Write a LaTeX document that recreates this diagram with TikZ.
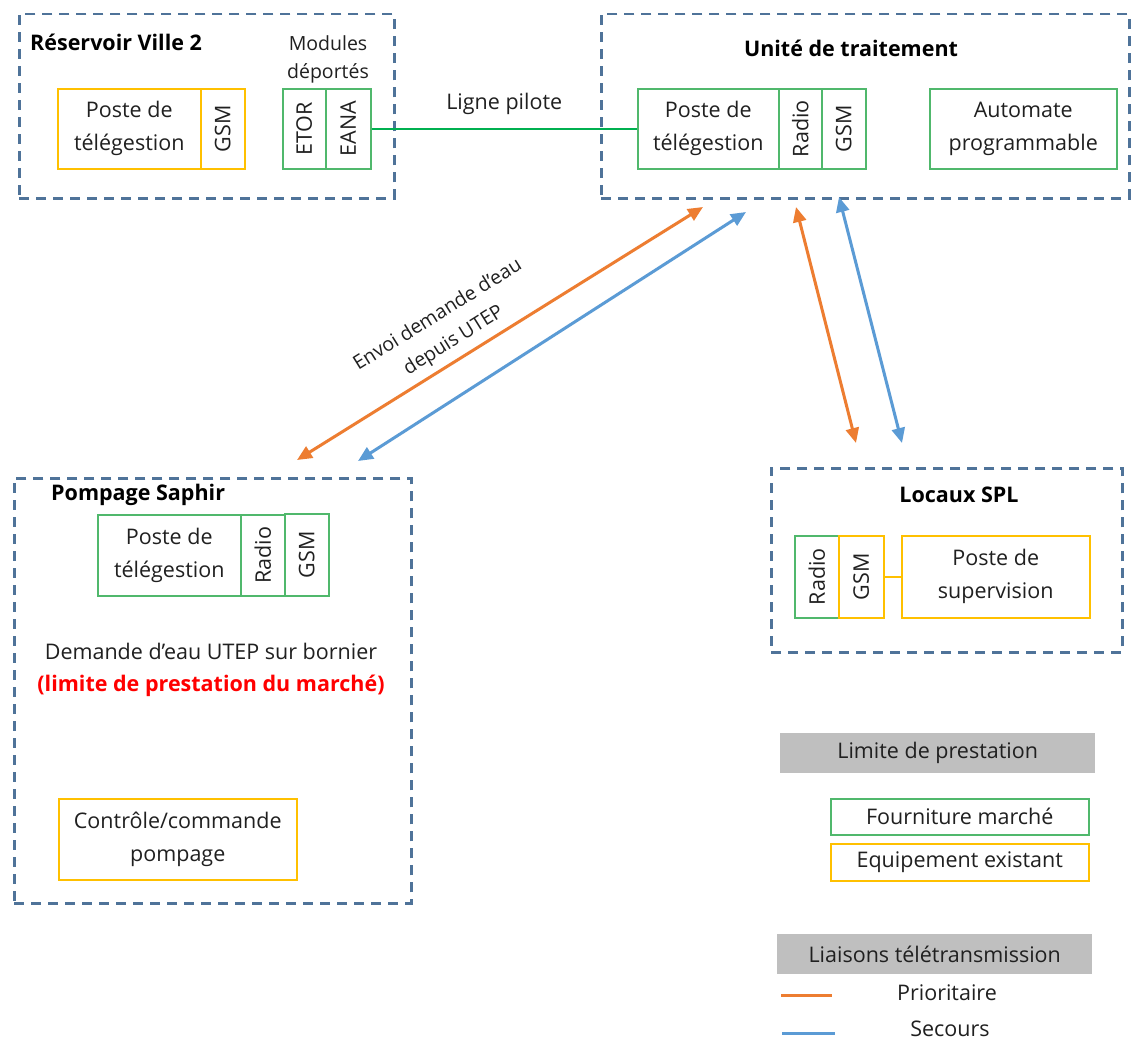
\documentclass[tikz,border=0pt]{standalone}
\usepackage{fontspec}
\setmainfont{Open Sans}
\usetikzlibrary{arrows.meta}
\definecolor{dashblue}{HTML}{4F7399}
\definecolor{gbox}{HTML}{50B86C}
\definecolor{lgreen}{HTML}{00B050}
\definecolor{obox}{HTML}{FFC000}
\definecolor{oarrow}{HTML}{ED7D31}
\definecolor{barrow}{HTML}{5B9BD5}
\definecolor{legray}{HTML}{BFBFBF}
\definecolor{txt}{HTML}{202020}
\definecolor{redtxt}{HTML}{FF0000}
\begin{document}
\begin{tikzpicture}[x=1pt,y=-1pt,
  every node/.style={text=txt, inner sep=0pt, font=\fontsize{21.5}{33}\selectfont, align=center},
  grp/.style={draw=dashblue, line width=2.5pt, dash pattern=on 10pt off 7pt, anchor=north west},
  gb/.style={draw=gbox, line width=1.5pt, anchor=north west},
  ob/.style={draw=obox, line width=1.5pt, anchor=north west},
  ttl/.style={font=\fontsize{21.5}{26}\selectfont\bfseries, text=black},
  small/.style={font=\fontsize{19.5}{28}\selectfont},
  lnk/.style={line width=3pt, {Triangle[length=15pt,width=13pt]}-{Triangle[length=15pt,width=13pt]}},
  legbar/.style={fill=legray, anchor=north west}
]
\useasboundingbox (0,0) rectangle (1134,1041);
\fill[white] (0,0) rectangle (1134,1041);

% ---------- Reservoir Ville 2
\node[grp, minimum width=375, minimum height=184] (res) at (18,13) {};
\node[ttl, anchor=west] (resT) at (30,42) {Réservoir Ville 2};
\node[small] (mod) at (328,59) {Modules\\déportés};
\node[ob, minimum width=143, minimum height=80] (rp) at (57,88) {Poste de\\télégestion};
\node[ob, minimum width=44, minimum height=80] (rg) at (200,88) {\rotatebox{90}{GSM}};
\node[gb, minimum width=43, minimum height=80] (etor) at (282,88) {\rotatebox{90}{ETOR}};
\node[gb, minimum width=45, minimum height=80] (eana) at (325,88) {\rotatebox{90}{EANA}};

% ---------- Unite de traitement
\node[grp, minimum width=528, minimum height=184] (ut) at (600,13) {};
\node[ttl] (utT) at (851,48) {Unité de traitement};
\node[gb, minimum width=141, minimum height=80] (up) at (637,88) {Poste de\\télégestion};
\node[gb, minimum width=43, minimum height=80] (ur) at (778,88) {\rotatebox{90}{Radio}};
\node[gb, minimum width=44, minimum height=80] (ug) at (821,88) {\rotatebox{90}{GSM}};
\node[gb, minimum width=187, minimum height=80] (ua) at (929,88) {Automate\\programmable};

% Ligne pilote
\draw[lgreen, line width=2.5pt] (eana.east) -- node[above=13pt, text=txt] (lp) {Ligne pilote} (up.west);

% ---------- Pompage Saphir
\node[grp, minimum width=397, minimum height=425] (pomp) at (13,477) {};
\node[ttl, anchor=west] (pompT) at (51,495) {Pompage Saphir};
\node[gb, minimum width=143, minimum height=81] (pp) at (97,514) {Poste de\\télégestion};
\node[gb, minimum width=44, minimum height=81] (pr) at (240,514) {\rotatebox{90}{Radio}};
\node[gb, minimum width=44, minimum height=82] (pg) at (284,513) {\rotatebox{90}{GSM}};
\node (dem) at (211,651) {Demande d’eau UTEP sur bornier};
\node[font=\fontsize{21.5}{26}\selectfont\bfseries, text=redtxt] (lim) at (211,686) {(limite de prestation du marché)};
\node[ob, minimum width=238, minimum height=81] (cc) at (58,798) {Contrôle/commande\\pompage};

% ---------- Locaux SPL
\node[grp, minimum width=351, minimum height=184] (spl) at (770,467) {};
\node[ttl] (splT) at (959,495) {Locaux SPL};
\node[gb, minimum width=44, minimum height=82] (sr) at (794,535) {\rotatebox{90}{Radio}};
\node[ob, minimum width=45, minimum height=82] (sg) at (838,535) {\rotatebox{90}{GSM}};
\node[ob, minimum width=188, minimum height=82] (ss) at (901,535) {Poste de\\supervision};
\draw[obox, line width=1.5pt] (sg.east) -- (ss.west);

% ---------- Links
\coordinate (o1a) at (297,460);
\coordinate (o1b) at (703,207);
\coordinate (b1a) at (358,461);
\coordinate (b1b) at (746,212);
\coordinate (o2a) at (796,207);
\coordinate (o2b) at (856,443);
\coordinate (b2a) at (839,197);
\coordinate (b2b) at (902,443);
\draw[lnk, oarrow] (o1a) -- (o1b);
\draw[lnk, barrow] (b1a) -- (b1b);
\draw[lnk, oarrow] (o2a) -- (o2b);
\draw[lnk, barrow] (b2a) -- (b2b);
\node[rotate=32, font=\fontsize{19.5}{30}\selectfont] (env) at (446,328) {Envoi demande d’eau\\depuis UTEP};

% ---------- Legend
\node[legbar, minimum width=315, minimum height=40] (lg1) at (780,733) {Limite de prestation};
\node[gb, minimum width=258, minimum height=36] (lf) at (830,798) {Fourniture marché};
\node[ob, minimum width=258, minimum height=37] (le) at (830,843) {Equipement existant};
\node[legbar, minimum width=315, minimum height=40] (lg2) at (777,934) {Liaisons télétransmission};
\coordinate (lo1) at (781,995);
\coordinate (lo2) at (832,995);
\coordinate (lb1) at (782,1033);
\coordinate (lb2) at (835,1033);
\draw[oarrow, line width=3pt] (lo1) -- (lo2);
\draw[barrow, line width=3pt] (lb1) -- (lb2);
\node (lpri) at (947,993) {Prioritaire};
\node (lsec) at (950,1029) {Secours};
\end{tikzpicture}
\end{document}
